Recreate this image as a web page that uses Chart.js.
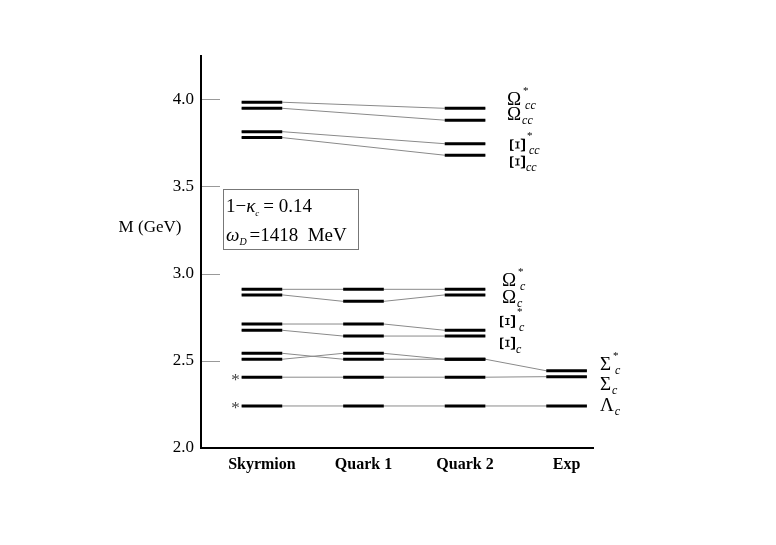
<!DOCTYPE html>
<html>
<head>
<meta charset="utf-8">
<script src="https://cdn.jsdelivr.net/npm/chart.js"></script>
<style>
  html, body { margin: 0; padding: 0; background: #fff; }
  canvas { display: block; }
</style>
</head>
<body>
<canvas id="chart" width="776" height="545"></canvas>
<script>
// mass levels in GeV, one entry per state, null where the model has no value
const models = ['Skyrmion', 'Quark 1', 'Quark 2', 'Exp'];
const states = ['Ω*cc', 'Ωcc', 'Ξ*cc', 'Ξcc', 'Ω*c', 'Ωc', 'Ξ*c', "Ξ'c", 'Ξc', 'Σ*c', 'Σc', 'Λc'];
const skyrmion = [3.983, 3.948, 3.814, 3.780, 2.910, 2.878, 2.711, 2.675, 2.543, 2.509, 2.406, 2.241];
const quark1 = [null, null, null, null, 2.910, 2.841, 2.711, 2.642, 2.509, 2.543, 2.406, 2.241];
const quark2 = [3.948, 3.880, 3.745, 3.679, 2.910, 2.878, 2.675, 2.642, 2.509, 2.509, 2.406, 2.241];
const exp = [null, null, null, null, null, null, null, null, null, 2.443, 2.409, 2.241];
const yTicks = [2.0, 2.5, 3.0, 3.5, 4.0];
const inputStates = ['Σc', 'Λc']; // fitted in the Skyrmion model, marked with *

// labels at the right hand side: [base, sup, sub]
const labelTexts = [
  ['Ω', '*', 'cc'], ['Ω', '', 'cc'], ['Ξ', '*', 'cc'], ['Ξ', '', 'cc'],
  ['Ω', '*', 'c'], ['Ω', '', 'c'], ['Ξ', '*', 'c'], ['Ξ', '', 'c'],
  ['Σ', '*', 'c'], ['Σ', '', 'c'], ['Λ', '', 'c']
];

const series = [skyrmion, quark1, quark2, exp];
const halfW = 0.2;
const FONT = "'Liberation Serif', 'Times New Roman', serif";

const datasets = [];
states.forEach((s, k) => {
  const links = [];
  const levels = [];
  series.forEach((vals, i) => {
    const v = vals[k];
    if (v == null) return;
    links.push({ x: i - halfW, y: v }, { x: i + halfW, y: v });
    levels.push({ x: i - halfW, y: v }, { x: i + halfW, y: v }, { x: i + halfW + 0.01, y: null });
  });
  datasets.push({
    label: s + ' link', data: links, borderColor: '#8a8a8a', borderWidth: 1,
    pointRadius: 0, order: 2
  });
  datasets.push({
    label: s, data: levels, borderColor: '#000', borderWidth: 3, borderCapStyle: 'butt',
    pointRadius: 0, spanGaps: false, order: 1
  });
});

// label anchors: x pixel of left edge, M value of the glyph centre
const labelAnchors = [
  [507, 3.996], [507, 3.910], [513, 3.738], [513, 3.640],
  [502, 2.958], [502, 2.862], [503, 2.725], [503, 2.600],
  [600, 2.476], [600, 2.361], [600, 2.241]
];

const overlay = {
  id: 'overlay',
  afterDraw(chart) {
    const { ctx, scales: { x, y } } = chart;
    ctx.save();

    // tick marks pointing into the plot (none on the x axis line itself)
    ctx.strokeStyle = '#999';
    ctx.lineWidth = 1;
    yTicks.filter(t => t > y.min).forEach(t => {
      const py = Math.round(y.getPixelForValue(t)) + 0.5;
      ctx.beginPath();
      ctx.moveTo(x.left + 1, py);
      ctx.lineTo(x.left + 19, py);
      ctx.stroke();
    });

    // axis title
    ctx.fillStyle = '#000';
    ctx.font = '17px ' + FONT;
    ctx.textAlign = 'center';
    ctx.textBaseline = 'middle';
    ctx.fillText('M (GeV)', 150, 228);

    // parameter box
    ctx.strokeStyle = '#777';
    ctx.strokeRect(223.5, 189.5, 135, 60);
    ctx.textAlign = 'left';
    ctx.textBaseline = 'alphabetic';
    let px = 226;
    ctx.font = '19px ' + FONT;
    ctx.fillText('1\u2212', px, 212);
    px += ctx.measureText('1\u2212').width;
    ctx.font = 'italic 19px ' + FONT;
    ctx.fillText('\u03ba', px, 212);
    px += ctx.measureText('\u03ba').width;
    ctx.font = 'italic 9px ' + FONT;
    ctx.fillText('c', px, 216);
    px += 8;
    ctx.font = '19px ' + FONT;
    ctx.fillText('= 0.14', px, 212);

    px = 226;
    ctx.font = 'italic 19px ' + FONT;
    ctx.fillText('\u03c9', px, 241);
    px += ctx.measureText('\u03c9').width;
    ctx.font = 'italic 10px ' + FONT;
    ctx.fillText('D', px, 245);
    px += 10;
    ctx.font = '19px ' + FONT;
    ctx.fillText('=1418  MeV', px, 241);

    // asterisks on input states
    ctx.fillStyle = '#444';
    ctx.font = '17px ' + FONT;
    ctx.textAlign = 'center';
    ctx.textBaseline = 'middle';
    inputStates.forEach(s => {
      const k = states.indexOf(s);
      ctx.fillText('*', x.getPixelForValue(0 - halfW) - 6, y.getPixelForValue(skyrmion[k]) + 3);
    });

    // state labels
    ctx.fillStyle = '#000';
    labelTexts.forEach(([base, sup, sub], i) => {
      const lx = labelAnchors[i][0];
      const ly = y.getPixelForValue(labelAnchors[i][1]);
      ctx.textAlign = 'left';
      ctx.textBaseline = 'middle';
      let w;
      if (base === 'Ξ') {
        ctx.save();
        ctx.font = '24px ' + FONT;
        ctx.translate(lx + 5, ly);
        ctx.rotate(-Math.PI / 2);
        ctx.textAlign = 'center';
        ctx.fillText(base, 0, 1);
        ctx.restore();
        w = 12;
      } else {
        ctx.font = '19px ' + FONT;
        ctx.fillText(base, lx, ly);
        w = ctx.measureText(base).width;
      }
      if (sup) {
        ctx.font = '11px ' + FONT;
        ctx.fillText(sup, lx + w + 2, ly - 9);
      }
      ctx.font = 'italic 12px ' + FONT;
      ctx.fillText(sub, lx + w + (sup ? 4 : 1), ly + 6);
    });
    ctx.restore();
  }
};

new Chart(document.getElementById('chart'), {
  type: 'line',
  data: { datasets },
  options: {
    responsive: false,
    animation: false,
    layout: { padding: { left: 0, right: 183, top: 56, bottom: 0 } },
    plugins: { legend: { display: false }, tooltip: { enabled: false } },
    scales: {
      x: {
        type: 'linear',
        min: -0.6,
        max: 3.26,
        afterBuildTicks: scale => { scale.ticks = models.map((m, i) => ({ value: i })); },
        afterFit: scale => { scale.height = 97; },
        grid: { drawOnChartArea: false, drawTicks: false },
        border: { display: true, color: '#000', width: 2 },
        ticks: {
          padding: 7,
          color: '#000',
          font: { family: FONT, size: 16, weight: 'bold' },
          callback: v => models[v],
          maxRotation: 0
        }
      },
      y: {
        type: 'linear',
        min: 2.0,
        max: 4.248,
        afterBuildTicks: scale => { scale.ticks = yTicks.map(v => ({ value: v })); },
        afterFit: scale => { scale.width = 201; },
        grid: { drawOnChartArea: false, drawTicks: false },
        border: { display: true, color: '#000', width: 2 },
        ticks: {
          padding: 7,
          color: '#000',
          font: { family: FONT, size: 17 },
          callback: v => v.toFixed(1)
        }
      }
    }
  },
  plugins: [overlay]
});
</script>
</body>
</html>
